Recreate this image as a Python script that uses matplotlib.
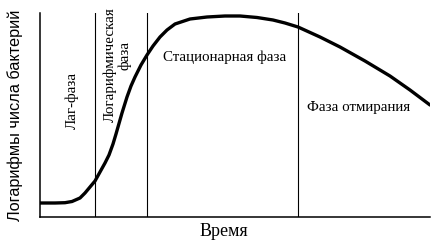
import matplotlib
matplotlib.use("Agg")
import matplotlib.pyplot as plt

# growth curve (time units, log count units)
time = [0, 15, 25, 32, 40, 45, 50, 55, 60, 65, 69, 73, 76, 78, 82, 87, 91, 95,
        101, 107, 113, 120, 127, 135, 150, 167, 185, 200, 217, 233, 245, 258,
        280, 300, 325, 350, 370, 390]
log_count = [14, 14, 14.3, 15.5, 19, 24, 30, 36, 45, 54, 62, 73, 83, 90, 104, 120, 131, 140,
             152, 162, 171, 180, 187, 193, 198, 200, 201, 201, 199.5, 197, 194, 190,
             180, 170, 156, 141, 127, 112]

phase_bounds = [55, 107, 258]
phase_labels = ["Лаг-фаза", "Логарифмическая", "фаза", "Стационарная фаза", "Фаза отмирания"]
x_label = "Время"
y_label = "Логарифмы числа бактерий"

W, H = 438, 244
fig = plt.figure(figsize=(W / 100, H / 100), dpi=100)
ax = fig.add_axes([40 / W, (H - 217) / H, 390 / W, 204 / H])
ax.set_xlim(0, 390)
ax.set_ylim(0, 204)

ax.plot(time, log_count, color="black", lw=2.4, solid_capstyle="round", solid_joinstyle="round")
for b in phase_bounds:
    ax.axvline(b, color="black", lw=0.8)

for s in ["top", "right"]:
    ax.spines[s].set_visible(False)
ax.spines["left"].set_linewidth(1.1)
ax.spines["bottom"].set_linewidth(1.1)
ax.set_xticks([])
ax.set_yticks([])

serif = "Liberation Serif"
fs = 10.8
ax.text(32, 117, phase_labels[0], rotation=90, ha="center", va="center", family=serif, fontsize=fs)
ax.text(70, 152, phase_labels[1], rotation=90, ha="center", va="center", family=serif, fontsize=fs)
ax.text(85, 162, phase_labels[2], rotation=90, ha="center", va="center", family=serif, fontsize=fs)
ax.text(185, 160, phase_labels[3], ha="center", va="center", family=serif, fontsize=fs)
ax.text(318.5, 109, phase_labels[4], ha="center", va="center", family=serif, fontsize=fs)

fig.text(224 / W, 1 - 232 / H, x_label, ha="center", va="center", family=serif, fontsize=13)
fig.text(15 / W, 1 - 115 / H, y_label, rotation=90, ha="center", va="center",
         family="Liberation Sans", fontsize=11.7)

fig.savefig("out.png", dpi=100)
